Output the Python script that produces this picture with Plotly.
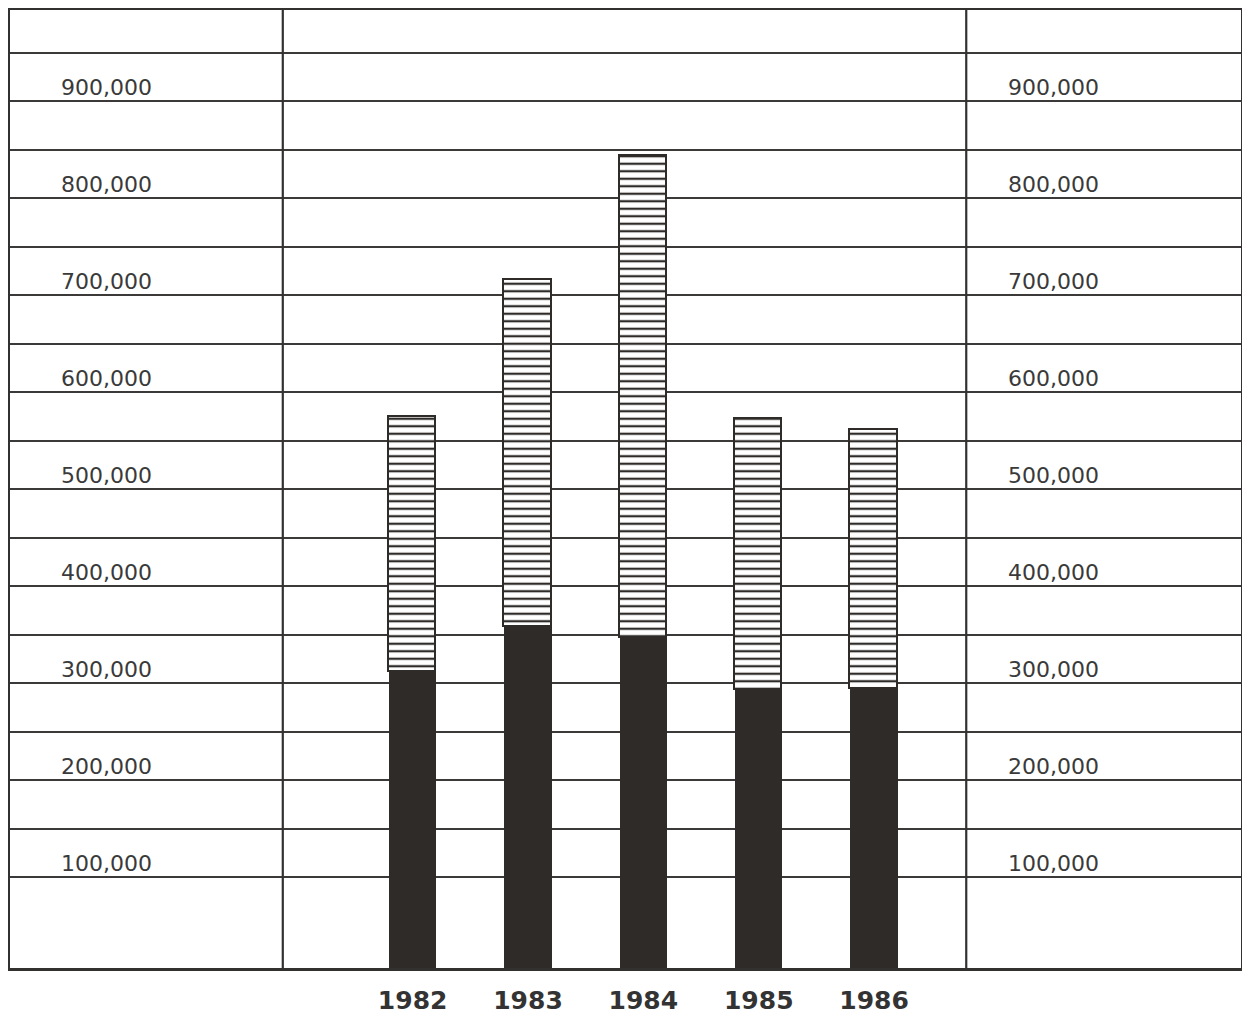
import plotly.graph_objects as go

# ---- data ----
years = ["1982", "1983", "1984", "1985", "1986"]
lower_values = [312000, 358000, 347000, 293000, 294000]     # solid dark segment
upper_values = [262000, 358000, 496000, 279000, 267000]     # hatched segment (stacked on top)
label_values = [100000, 200000, 300000, 400000, 500000, 600000, 700000, 800000, 900000]
label_texts = ["100,000", "200,000", "300,000", "400,000", "500,000",
               "600,000", "700,000", "800,000", "900,000"]
grid_values = [100000, 150000, 200000, 250000, 300000, 350000, 400000, 450000,
               500000, 550000, 600000, 650000, 700000, 750000, 800000, 850000,
               900000, 950000]

INK = "#333130"
BAR = "#2e2b29"

fig = go.Figure()
fig.add_trace(go.Bar(
    x=years, y=lower_values, width=0.41,
    marker=dict(color=BAR, line=dict(width=0)),
    showlegend=False, hoverinfo="skip",
))
fig.add_trace(go.Bar(
    x=years, y=upper_values, width=0.41,
    marker=dict(
        color="white",
        line=dict(width=1.6, color=BAR),
        pattern=dict(shape="-", size=7.5, solidity=0.3, fgcolor=BAR,
                     bgcolor="white", fillmode="replace"),
    ),
    showlegend=False, hoverinfo="skip",
))

# value labels in the left and right columns
for v, t in zip(label_values, label_texts):
    for xp in (0.0787, 0.8474):
        fig.add_annotation(
            x=xp, xref="paper", y=v, yref="y", text=t, showarrow=False,
            xanchor="center", yanchor="bottom", yshift=-1,
            font=dict(family="DejaVu Sans", size=22, color="#3a3a3a"),
        )

# inner vertical dividers
for xp in (0.2216, 0.7768):
    fig.add_shape(type="line", xref="paper", yref="paper", x0=xp, x1=xp, y0=0, y1=1,
                  line=dict(color=INK, width=2.2), layer="above")

fig.update_layout(
    width=1234, height=1008,
    margin=dict(l=2, r=1, t=2, b=48),
    paper_bgcolor="white", plot_bgcolor="white",
    barmode="stack", bargap=0,
    showlegend=False,
)
fig.update_xaxes(
    type="category", categoryorder="array", categoryarray=years,
    range=[-3.49, 7.18], automargin=False,
    showgrid=False, zeroline=False,
    showline=True, mirror=True, linecolor=INK, linewidth=3,
    ticks="", ticklabelstandoff=8,
    tickfont=dict(family="DejaVu Sans", size=25, color="#333333", weight="bold"),
)
fig.update_yaxes(
    range=[6500, 994000], automargin=False,
    tickmode="array", tickvals=grid_values, showticklabels=False, ticks="",
    showgrid=True, gridcolor="#3c3a39", gridwidth=2.4,
    zeroline=False,
    showline=True, mirror=True, linecolor=INK, linewidth=3,
)

fig.write_html("out.html")
